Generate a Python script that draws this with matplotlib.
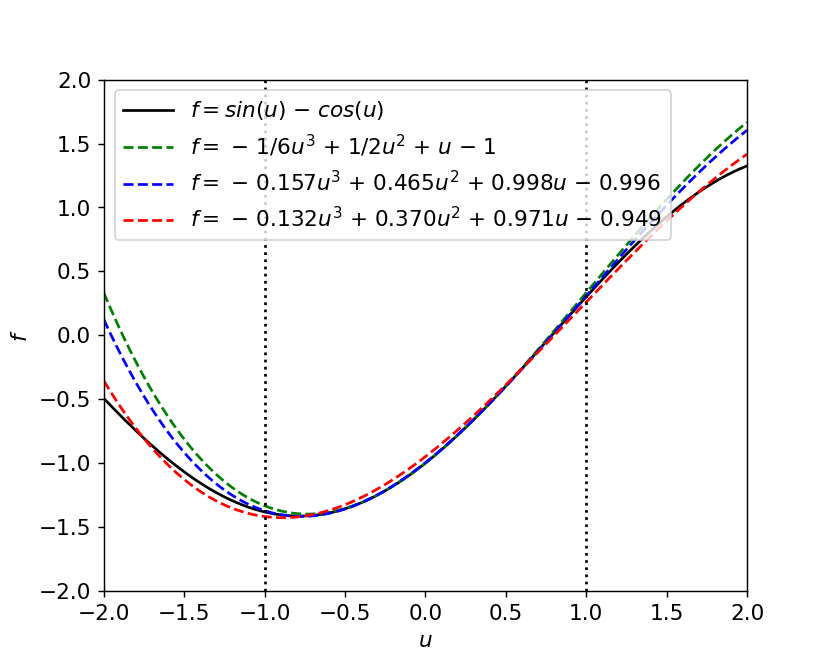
import matplotlib
matplotlib.use('Agg')
import matplotlib.pyplot as plt
import numpy as np

# polynomial coefficients (highest power first)
taylor = [-1/6, 1/2, 1, -1]
fit_blue = [-0.157, 0.465, 0.998, -0.996]
fit_red = [-0.132, 0.370, 0.971, -0.949]
labels = [r'f = sin(u) - cos(u)',
          r'f = {} - 1/6u^3 + 1/2u^2 + u - 1',
          r'f = {} - 0.157u^3 + 0.465u^2 + 0.998u - 0.996',
          r'f = {} - 0.132u^3 + 0.370u^2 + 0.971u - 0.949']
marks = [-1, 1]

plt.rcParams['font.size'] = 12


def spaced(s, pad=0.12):
    # a bit more room round + and -, like the older mathtext
    for op in ['+', '-']:
        s = s.replace(' %s ' % op, r'\hspace{%g}%s\hspace{%g}' % (pad, op, pad))
    return '$' + s + '$'


u = np.linspace(-2, 2, 400)

fig, ax = plt.subplots(figsize=(6.4, 5.12), dpi=129.7)
ax.plot(u, np.sin(u) - np.cos(u), 'k-', label=spaced(labels[0]))
ax.plot(u, np.polyval(taylor, u), 'g--', label=spaced(labels[1]))
ax.plot(u, np.polyval(fit_blue, u), 'b--', label=spaced(labels[2]))
ax.plot(u, np.polyval(fit_red, u), 'r--', label=spaced(labels[3]))
for m in marks:
    ax.axvline(m, color='k', linestyle=':')

ax.set_xlim(-2, 2)
ax.set_ylim(-2, 2)
ax.set_xlabel(r'$u$')
ax.set_ylabel(r'$f$')
ax.legend(loc='upper left', handlelength=2.3)
plt.savefig('out.png')
